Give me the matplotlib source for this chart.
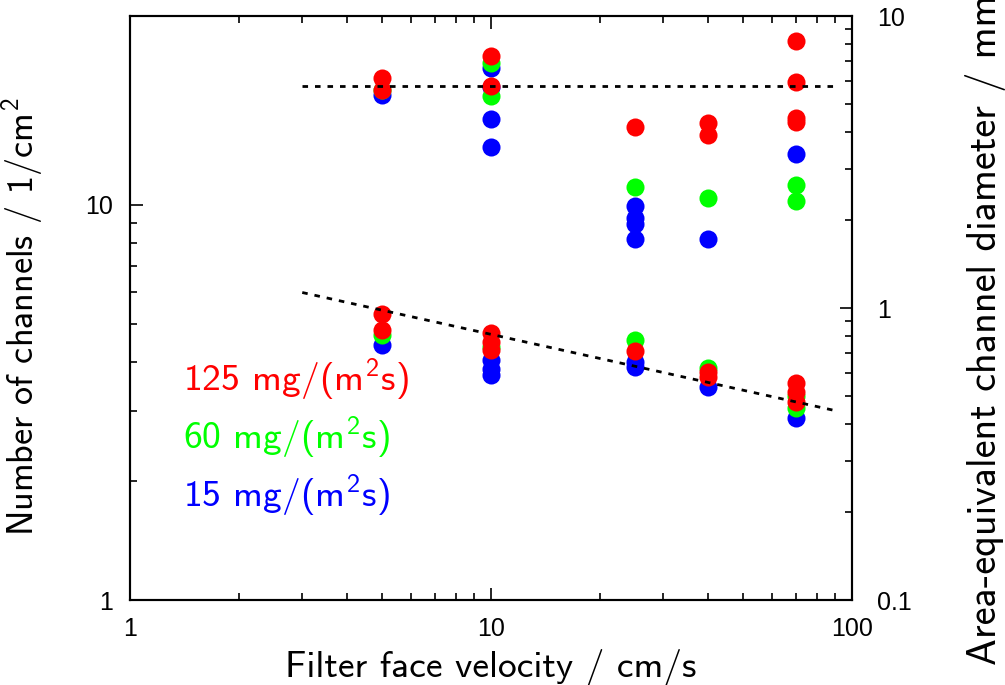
# Channel count and channel diameter vs. filter face velocity (log-log, twin y axis)
import matplotlib
matplotlib.use("Agg")
import matplotlib.pyplot as plt
from matplotlib.ticker import FixedLocator, NullFormatter

plt.rcParams['font.family'] = 'Liberation Sans'
plt.rcParams['mathtext.fontset'] = 'custom'
plt.rcParams['mathtext.rm'] = 'cmss10'
plt.rcParams['mathtext.it'] = 'cmss10'
plt.rcParams['mathtext.sf'] = 'cmss10'

# number of channels (left axis), per dust rate
v_n_blue = [5, 10, 10, 10, 10, 25, 25, 25, 25, 40, 70]
n_blue = [18.9, 22.1, 19.8, 16.5, 14.0, 9.94, 9.25, 8.95, 8.19, 8.19, 13.4]
v_n_green = [5, 10, 10, 25, 40, 70, 70]
n_green = [19.5, 22.8, 18.8, 11.1, 10.4, 11.2, 10.2]
v_n_red = [5, 5, 10, 10, 25, 40, 40, 70, 70, 70, 70]
n_red = [20.9, 19.5, 23.8, 19.9, 15.7, 16.1, 15.0, 25.9, 20.4, 16.6, 16.2]

# area-equivalent channel diameter (right axis)
v_d_blue = [5, 10, 10, 10, 25, 25, 40, 70]
d_blue = [0.747, 0.664, 0.617, 0.590, 0.655, 0.626, 0.535, 0.419]
v_d_green = [5, 10, 25, 40, 70, 70]
d_green = [0.808, 0.737, 0.777, 0.621, 0.453, 0.50]
v_d_red = [5, 5, 10, 10, 10, 25, 40, 40, 70, 70, 70]
d_red = [0.951, 0.841, 0.819, 0.767, 0.718, 0.714, 0.605, 0.582, 0.552, 0.517, 0.478]

# guide lines
v_guide = [3, 90]
n_guide = [20, 20]
d_guide = [1.13, 0.445]

labels = ['125 mg/(m$^2$s)', '60 mg/(m$^2$s)', '15 mg/(m$^2$s)']
colors = ['#ff0000', '#00ff00', '#0000ff']

fig = plt.figure(figsize=(10.05, 6.85), dpi=100)
ax = fig.add_axes([130/1005, 85/685, 722/1005, 584/685])
ax2 = ax.twinx()

ax.set_xscale('log')
ax.set_yscale('log')
ax2.set_yscale('log')
ax.set_xlim(1, 100)
ax.set_ylim(1, 30)
ax2.set_ylim(0.1, 10)

ms = 13
ax.plot(v_n_blue, n_blue, 'o', color=colors[2], ms=ms, mew=0)
ax.plot(v_n_green, n_green, 'o', color=colors[1], ms=ms, mew=0)
ax.plot(v_n_red, n_red, 'o', color=colors[0], ms=ms, mew=0)
ax.plot(v_guide, n_guide, color='black', lw=2, ls=(0, (2, 2.5)))

ax2.plot(v_d_blue, d_blue, 'o', color=colors[2], ms=ms, mew=0)
ax2.plot(v_d_green, d_green, 'o', color=colors[1], ms=ms, mew=0)
ax2.plot(v_d_red, d_red, 'o', color=colors[0], ms=ms, mew=0)
ax2.plot(v_guide, d_guide, color='black', lw=2, ls=(0, (2, 2.5)))

# ticks
ax.set_xticks([1, 10, 100], labels=['1', '10', '100'])
ax.xaxis.set_minor_locator(FixedLocator([2, 3, 4, 5, 6, 7, 8, 9, 20, 30, 40, 50, 60, 70, 80, 90]))
ax.xaxis.set_minor_formatter(NullFormatter())
ax.set_yticks([1, 10], labels=['1', '10'])
ax.yaxis.set_minor_locator(FixedLocator([2, 3, 4, 5, 6, 7, 8, 9]))
ax.yaxis.set_minor_formatter(NullFormatter())
ax2.set_yticks([0.1, 1, 10], labels=['0.1', '1', '10'])
ax2.yaxis.set_minor_locator(FixedLocator([0.2, 0.3, 0.4, 0.5, 0.6, 0.7, 0.8, 0.9, 2, 3, 4, 5, 6, 7, 8, 9]))
ax2.yaxis.set_minor_formatter(NullFormatter())

ax.tick_params(which='both', direction='in', top=True, right=False, labelsize=18, width=1.2)
ax.tick_params(axis='x', which='major', length=9, pad=12)
ax.tick_params(axis='y', which='major', length=9, pad=12)
ax.tick_params(which='minor', length=5)
ax2.tick_params(which='both', direction='in', labelsize=18, width=1.2)
ax2.tick_params(which='major', length=9, pad=18)
ax2.tick_params(which='minor', length=5)
for a in (ax, ax2):
    for s in a.spines.values():
        s.set_linewidth(1.5)

ax.set_xlabel('Filter face velocity / cm/s', family='cmss10', fontsize=27, labelpad=6)
ax.set_ylabel('Number of channels / 1/cm$^2$', family='cmss10', fontsize=26)
ax.yaxis.set_label_coords(-0.118, 0.485)
ax2.set_ylabel('Area-equivalent channel diameter / mm', family='cmss10', fontsize=29,
               rotation=90)
ax2.yaxis.set_label_coords(1.156, 0.462)

for i, (lab, c) in enumerate(zip(labels, colors)):
    ax.text(0.073, 0.377 - i * 0.099, lab, color=c, family='cmss10', fontsize=27,
            transform=ax.transAxes, va='center', ha='left')

fig.savefig('out.png', dpi=100)
